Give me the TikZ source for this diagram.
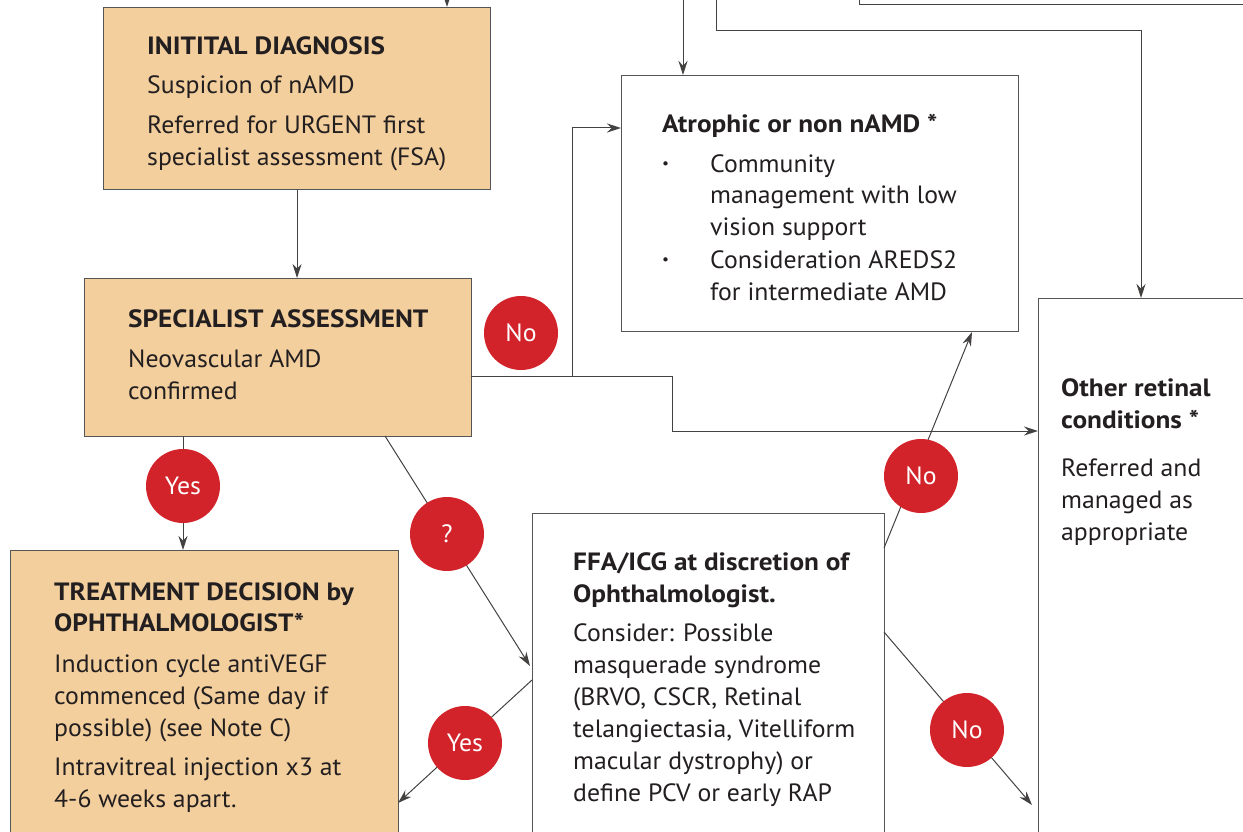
\documentclass[tikz,border=0pt]{standalone}
\usepackage{fontspec}
\setmainfont{PT Sans}[FakeStretch=1.03,BoldFeatures={FakeStretch=1.09}]
\usetikzlibrary{arrows.meta,calc}
\definecolor{boxfill}{HTML}{F3CF9D}
\definecolor{nred}{HTML}{D2232A}
\definecolor{edgec}{HTML}{555555}
\definecolor{txtc}{HTML}{231F20}
\newcommand\lineat[4]{\node[txt,anchor=base west] (#1) at (#2,#3) {#4};}
\begin{document}
\begin{tikzpicture}[x=1pt,y=-1pt,
  obox/.style={draw=edgec,line width=1.1pt,fill=boxfill,anchor=north west,inner sep=0pt},
  wbox/.style={draw=edgec,line width=1.1pt,fill=white,anchor=north west,inner sep=0pt},
  txt/.style={inner sep=0pt,text=txtc,font=\fontsize{25}{32}\selectfont},
  btxt/.style={txt,font=\fontsize{25}{32}\selectfont\bfseries},
  bul/.style={inner sep=0pt,text=txtc,font=\fontsize{15}{20}\selectfont,anchor=base west},
  conn/.style={draw=txtc!85,line width=1pt},
  arr/.style={conn,-{Stealth[length=14pt,width=9pt]}},
  circ/.style={circle,fill=nred,minimum size=74pt,inner sep=0pt,text=white,font=\fontsize{25}{28}\selectfont}]
\useasboundingbox (0,0) rectangle (1243,832);
\clip (0,0) rectangle (1243,832);
% boxes
\node[obox,minimum width=387pt,minimum height=182pt] (init) at (103,7) {};
\node[obox,minimum width=387pt,minimum height=158pt] (spec) at (84,278) {};
\node[wbox,minimum width=397pt,minimum height=256pt] (atro) at (621,75) {};
\node[wbox,minimum width=230pt,minimum height=560pt] (other) at (1038,298) {};
\node[obox,minimum width=388pt,minimum height=320pt] (treat) at (10,550) {};
\node[wbox,minimum width=352pt,minimum height=340pt] (ffa) at (532,513) {};
% coordinates
\coordinate (tin) at (447,0);
\coordinate (tatro) at (683,0);
\coordinate (tother) at (716,0);
\coordinate (tfar) at (859,0);
\coordinate (sout) at (471,376);
\coordinate (split) at (572,376);
\coordinate (bend) at (672,376);
\coordinate (ybot) at (183,436);
\coordinate (qtop) at (385,436);
\coordinate (qend) at (530,666);
\coordinate (ystart) at (532,680);
\coordinate (yend) at (398,803);
\coordinate (n1s) at (884,548);
\coordinate (n1e) at (972,332);
\coordinate (n2s) at (884,632);
\coordinate (n2e) at (1032,805);
% connectors
\draw[arr] (tin) -- (tin |- init.north);
\draw[arr] (init.south) -- (init.south |- spec.north);
\draw[arr] (tatro) -- (tatro |- atro.north);
\draw[arr] (tother) -- ++(0,31) -| (other.north -| 1141,0);
\draw[conn] (tfar) -- ++(0,5) -- (1260,5);
\draw[conn] (sout) -- (bend);
\draw[arr] (split) |- (atro.west |- 0,128);
\draw[arr] (bend) |- (other.west |- 0,431);
\draw[arr] (ybot) -- (ybot |- treat.north);
\draw[arr] (qtop) -- (qend);
\draw[arr] (ystart) -- (yend);
\draw[arr] (n1s) -- (n1e);
\draw[arr] (n2s) -- (n2e);
% circles
\node[circ] (cno1) at (521,333) {No};
\node[circ] (cyes1) at (183,486) {Yes};
\node[circ] (cq) at (447,534) {?};
\node[circ] (cyes2) at (465,743) {Yes};
\node[circ] (cno2) at (921,476) {No};
\node[circ] (cno3) at (967,730) {No};
% texts
\node[btxt,anchor=base west] (i1) at (147,55) {INITITAL DIAGNOSIS};
\lineat{i2}{147}{94}{Suspicion of nAMD}
\lineat{i3}{147}{134}{Referred for URGENT first}
\lineat{i4}{147}{166}{specialist assessment (FSA)}
\node[btxt,anchor=base west] (s1) at (128,327) {SPECIALIST ASSESSMENT};
\lineat{s2}{128}{367}{Neovascular AMD}
\lineat{s3}{128}{399}{confirmed}
\node[btxt,anchor=base west] (a1) at (662,133) {Atrophic or non nAMD *};
\node[bul] (ab1) at (662,168) {•};
\lineat{a2}{710}{172}{Community}
\lineat{a3}{710}{204}{management with low}
\lineat{a4}{710}{236}{vision support}
\node[bul] (ab2) at (662,264) {•};
\lineat{a5}{710}{268}{Consideration AREDS2}
\lineat{a6}{710}{300}{for intermediate AMD}
\node[btxt,anchor=base west] (o1) at (1061,396) {Other retinal};
\node[btxt,anchor=base west] (o2) at (1061,428) {conditions *};
\lineat{o3}{1061}{476}{Referred and}
\lineat{o4}{1061}{508}{managed as}
\lineat{o5}{1061}{540}{appropriate}
\node[btxt,anchor=base west] (t1) at (54,600) {TREATMENT DECISION by};
\node[btxt,anchor=base west] (t2) at (54,631) {OPHTHALMOLOGIST*};
\lineat{t3}{54}{672}{Induction cycle antiVEGF}
\lineat{t4}{54}{704}{commenced (Same day if}
\lineat{t5}{54}{736}{possible) (see Note C)}
\lineat{t6}{54}{775}{Intravitreal injection x3 at}
\lineat{t7}{54}{807}{4-6 weeks apart.}
\node[btxt,anchor=base west] (f1) at (573,570) {FFA/ICG at discretion of};
\node[btxt,anchor=base west] (f2) at (573,602) {Ophthalmologist.};
\lineat{f3}{573}{641}{Consider: Possible}
\lineat{f4}{573}{673}{masquerade syndrome}
\lineat{f5}{573}{705}{(BRVO, CSCR, Retinal}
\lineat{f6}{573}{737}{telangiectasia, Vitelliform}
\lineat{f7}{573}{769}{macular dystrophy) or}
\lineat{f8}{573}{801}{define PCV or early RAP}
\end{tikzpicture}
\end{document}
